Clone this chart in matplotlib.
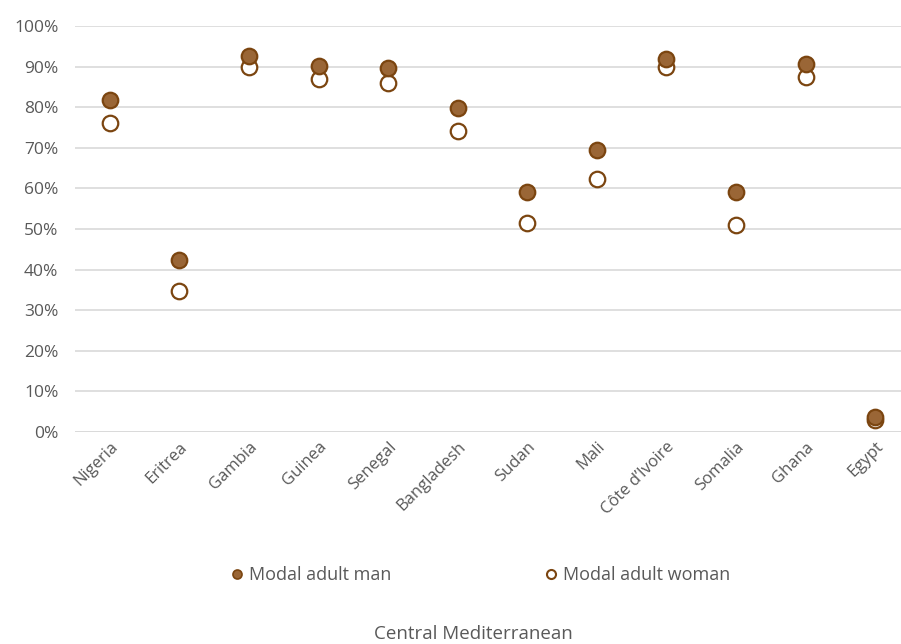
import matplotlib
matplotlib.use("Agg")
import matplotlib.pyplot as plt
from matplotlib.ticker import PercentFormatter
from matplotlib.lines import Line2D

countries = ["Nigeria", "Eritrea", "Gambia", "Guinea", "Senegal", "Bangladesh",
             "Sudan", "Mali", "Côte d’Ivoire", "Somalia", "Ghana", "Egypt"]
man = [81.8, 42.4, 92.6, 90.1, 89.7, 79.8, 59.1, 69.5, 91.9, 59.1, 90.6, 3.7]
woman = [76.1, 34.7, 89.9, 86.9, 86.0, 74.1, 51.5, 62.3, 89.9, 51.0, 87.4, 3.0]
yticks = [0, 10, 20, 30, 40, 50, 60, 70, 80, 90, 100]

plt.rcParams['font.family'] = ['Open Sans', 'DejaVu Sans']
TXT = '#595959'
EDGE = '#7B4510'
FILL = '#9A6636'

fig = plt.figure(figsize=(9.01, 6.44), dpi=100)
ax = fig.add_axes([75/901, (644-432)/644, 835/901, 406/644])
x = list(range(len(countries)))
ax.scatter(x, woman, s=125, facecolor='white', edgecolor=EDGE, linewidth=1.6, zorder=3)
ax.scatter(x, man, s=125, facecolor=FILL, edgecolor=EDGE, linewidth=1.6, zorder=4)
ax.set_xlim(-0.5, len(countries) - 0.5)
ax.set_ylim(0, 100)
ax.set_yticks(yticks)
ax.yaxis.set_major_formatter(PercentFormatter(decimals=0))
ax.grid(axis='y', color='#D9D9D9', linewidth=1.2, zorder=0)
for s in ax.spines.values():
    s.set_visible(False)
ax.axhline(0, color='#D9D9D9', linewidth=1.2, zorder=1)
ax.tick_params(axis='y', length=0, labelsize=12.5, labelcolor=TXT, pad=12)
ax.tick_params(axis='x', length=0, labelsize=12, labelcolor=TXT, pad=5)
ax.set_xticks(x)
ax.set_xticklabels(countries, rotation=45, ha='right', rotation_mode='anchor')

h = [Line2D([], [], marker='o', linestyle='', markersize=6.5, markerfacecolor=FILL, markeredgecolor=EDGE, markeredgewidth=1.2),
     Line2D([], [], marker='o', linestyle='', markersize=6.5, markerfacecolor='white', markeredgecolor=EDGE, markeredgewidth=1.5)]
fig.legend(h, ['Modal adult man', 'Modal adult woman'], loc='center', bbox_to_anchor=(479/901, 1 - 575/644),
           ncol=2, frameon=False, fontsize=13, labelcolor=TXT, columnspacing=8.3, handletextpad=0.2, handlelength=1)
fig.text(473/901, 1 - 634/644, 'Central Mediterranean', ha='center', va='center', fontsize=13.5, color=TXT)
fig.savefig('out.png', dpi=100)
